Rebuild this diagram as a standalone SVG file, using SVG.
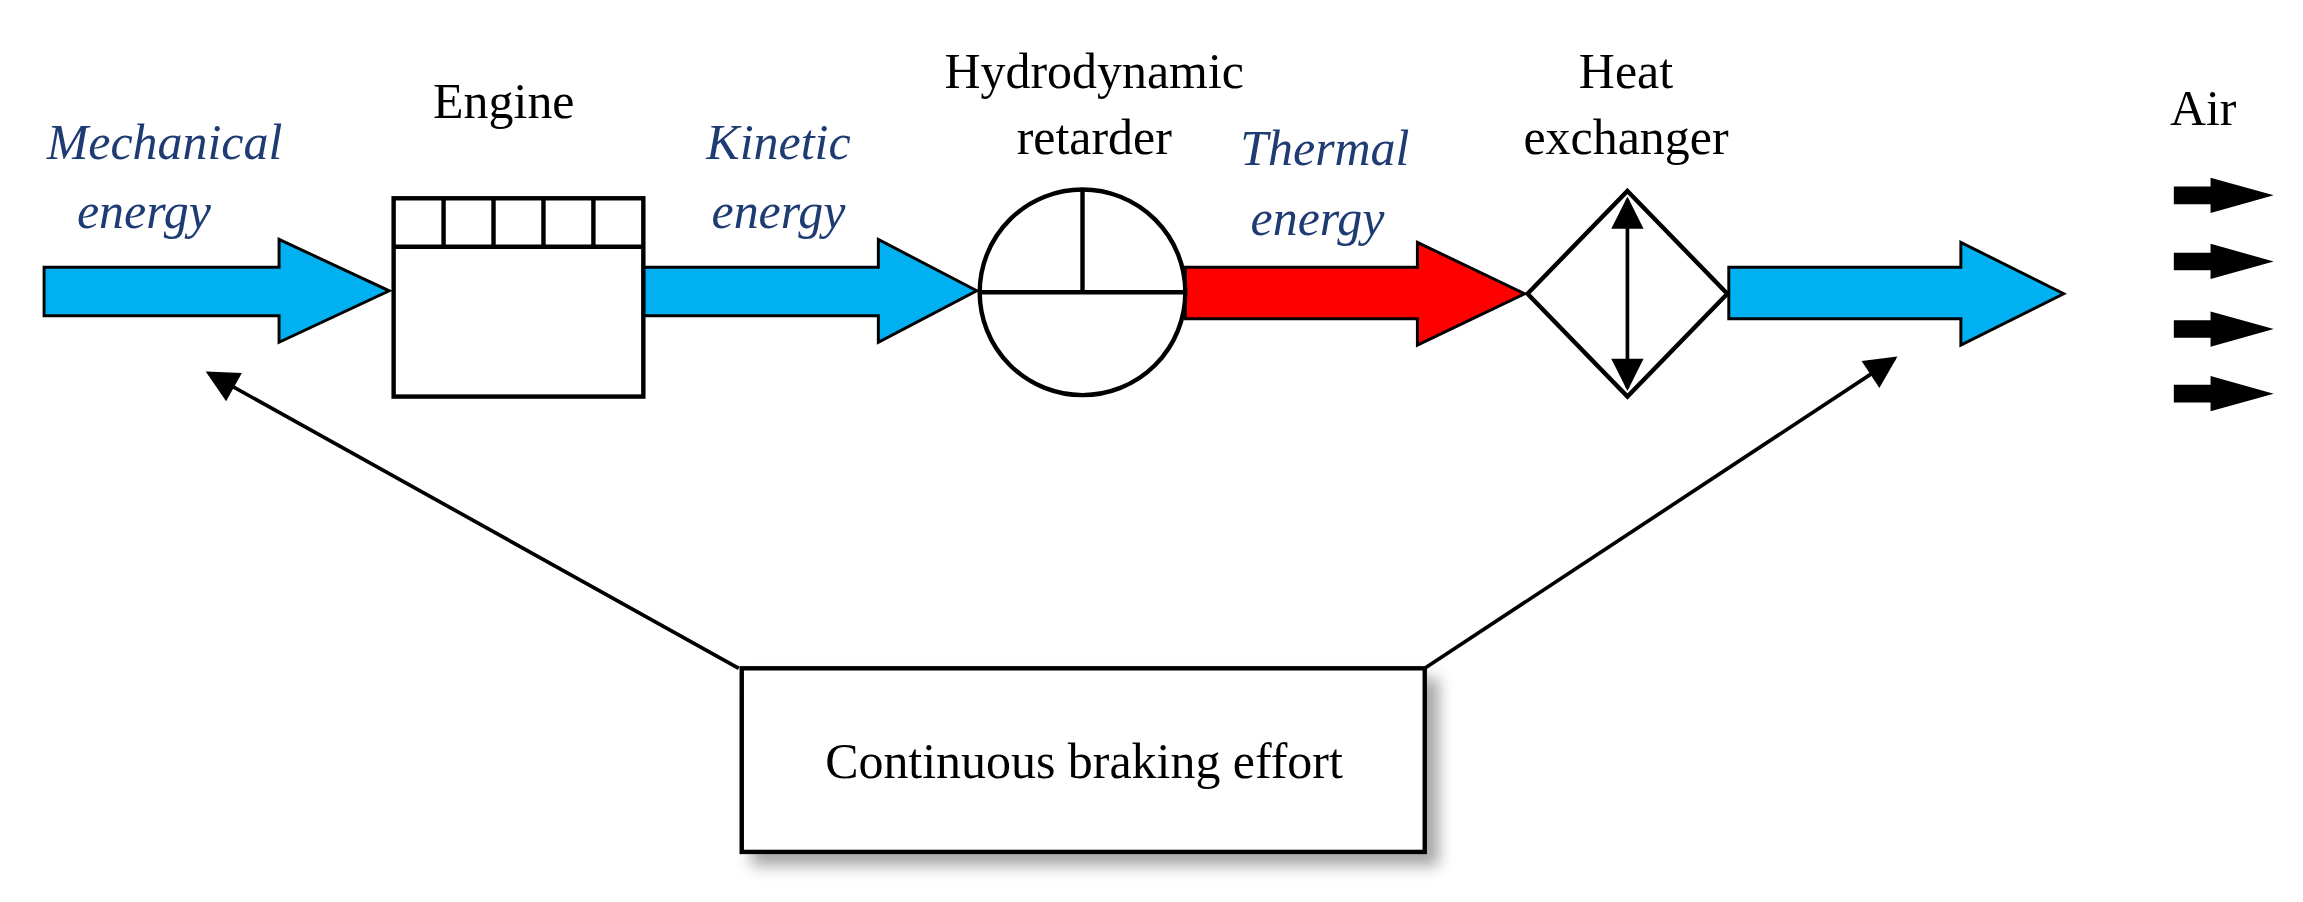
<svg xmlns="http://www.w3.org/2000/svg" width="2303" height="902" viewBox="0 0 2303 902">
<defs>
<style>
.t{font-family:"Liberation Serif",serif;font-size:34px;fill:#000;text-anchor:middle}
.e{font-family:"Liberation Serif",serif;font-size:34px;font-style:italic;fill:#1F3B73;text-anchor:middle}
.blue{fill:#00B0F0;stroke:#000;stroke-width:2}
.red{fill:#FF0000;stroke:#000;stroke-width:2}
.blk{fill:#000}
.sh{fill:none;stroke:#000;stroke-width:3}
.ln{stroke:#000;stroke-width:2.5;fill:none}
</style>
<marker id="ah2" viewBox="0 0 10 10" refX="9" refY="5" markerWidth="28" markerHeight="22" orient="auto-start-reverse" markerUnits="userSpaceOnUse"><path d="M0,0 L10,5 L0,10 z" fill="#000"/></marker>
<filter id="ds" x="-10%" y="-10%" width="130%" height="140%"><feDropShadow dx="8" dy="8" stdDeviation="5" flood-color="#000" flood-opacity="0.35"/></filter>
</defs>
<rect width="2303" height="902" fill="#fff"/>
<g transform="scale(1.4688)">
<g id="labels">
<text class="e" x="112" y="108">Mechanical</text>
<text class="e" x="98" y="155">energy</text>
<text class="t" x="343" y="80">Engine</text>
<text class="e" x="530" y="108">Kinetic</text>
<text class="e" x="530" y="155">energy</text>
<text class="t" x="745" y="60">Hydrodynamic</text>
<text class="t" x="745" y="105">retarder</text>
<text class="e" x="902" y="112">Thermal</text>
<text class="e" x="897" y="160">energy</text>
<text class="t" x="1107" y="60">Heat</text>
<text class="t" x="1107" y="105">exchanger</text>
<text class="t" x="1500" y="85">Air</text>
</g>
<g id="flows">
<polygon class="blue" points="30,182 190,182 190,163 265,198 190,233 190,215 30,215"/>
<polygon class="blue" points="438,182 598,182 598,163 665,198 598,233 598,215 438,215"/>
<polygon class="red" points="807,182 965,182 965,165 1038,200 965,235 965,217 807,217"/>
<polygon class="blue" points="1177,182 1335,182 1335,165 1405,200 1335,235 1335,217 1177,217"/>
</g>
<g id="engine">
<rect class="sh" x="268" y="135" width="170" height="135" fill="#fff"/>
<line class="sh" x1="268" y1="168" x2="438" y2="168"/>
<line class="sh" x1="302" y1="135" x2="302" y2="168"/>
<line class="sh" x1="336" y1="135" x2="336" y2="168"/>
<line class="sh" x1="370" y1="135" x2="370" y2="168"/>
<line class="sh" x1="404" y1="135" x2="404" y2="168"/>
</g>
<g id="retarder">
<circle class="sh" cx="737" cy="199" r="70" fill="#fff"/>
<line class="sh" x1="667" y1="199" x2="807" y2="199"/>
<line class="sh" x1="737" y1="129" x2="737" y2="199"/>
</g>
<g id="exchanger">
<polygon class="sh" points="1108,130 1176,200 1108,270 1040,200" fill="#fff"/>
<line class="ln" x1="1108" y1="136" x2="1108" y2="264" marker-start="url(#ah2)" marker-end="url(#ah2)"/>
</g>
<g id="air">
<polygon class="blk" points="1480,127 1505,127 1505,121 1548,133 1505,145 1505,139 1480,139"/>
<polygon class="blk" points="1480,172 1505,172 1505,166 1548,178 1505,190 1505,184 1480,184"/>
<polygon class="blk" points="1480,218 1505,218 1505,212 1548,224 1505,236 1505,230 1480,230"/>
<polygon class="blk" points="1480,262 1505,262 1505,256 1548,268 1505,280 1505,274 1480,274"/>
</g>
<g id="braking">
<rect x="505" y="455" width="465" height="125" fill="#fff" stroke="#000" stroke-width="3" filter="url(#ds)"/>
<text class="t" x="738" y="530">Continuous braking effort</text>
</g>
<g id="connectors">
<line class="ln" x1="503" y1="455" x2="142" y2="254" marker-end="url(#ah2)"/>
<line class="ln" x1="970" y1="455" x2="1290" y2="244" marker-end="url(#ah2)"/>
</g>
</g>
</svg>
